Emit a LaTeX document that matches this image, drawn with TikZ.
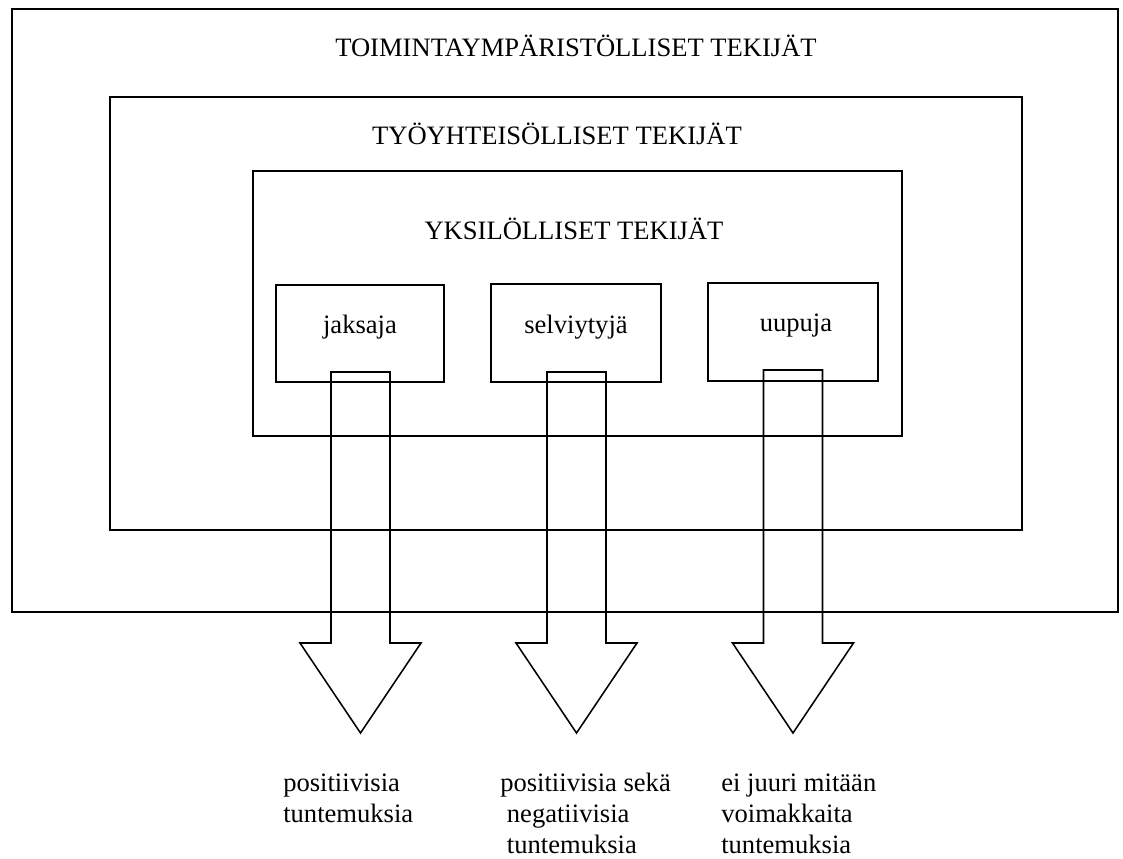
\documentclass[tikz,border=0pt]{standalone}
\usepackage{fontspec}
\setmainfont{Liberation Serif}

\tikzset{
  kehys/.style={line width=1.1pt},
  teksti/.style={font=\fontsize{18.9}{22}\selectfont, inner sep=0pt},
}

\begin{document}
\begin{tikzpicture}[x=0.025cm, y=-0.025cm, line join=miter]
  \useasboundingbox (0,0) rectangle (1123,859);
  % kehykset
  \draw[kehys] (12,9) rectangle (1118,612);
  \draw[kehys] (110,97) rectangle (1022,530);
  \draw[kehys] (253,171) rectangle (902,436);
  \node[teksti, anchor=base] (toiminta) at (576,57) {TOIMINTAYMPÄRISTÖLLISET TEKIJÄT};
  \node[teksti, anchor=base] (tyoyhteiso) at (557,145) {TYÖYHTEISÖLLISET TEKIJÄT};
  \node[teksti, anchor=base] (yksilo) at (574,240) {YKSILÖLLISET TEKIJÄT};
  % tyypit
  \draw[kehys] (276,285) rectangle (444,382);
  \draw[kehys] (491,284) rectangle (661,382);
  \draw[kehys] (708,283) rectangle (878,381);
  \node[teksti, anchor=base] (jaksaja) at (360,333) {jaksaja};
  \node[teksti, anchor=base] (selviytyja) at (576,333) {selviytyjä};
  \node[teksti, anchor=base] (uupuja) at (796,332) {uupuja};
  % nuolet (ontot)
  \foreach \x/\yt in {360.5/372, 576.5/372, 793/370}
    \draw[kehys] (\x-29.5,\yt) -- (\x+29.5,\yt) -- (\x+29.5,643) -- (\x+60.5,643)
      -- (\x,733) -- (\x-60.5,643) -- (\x-29.5,643) -- cycle;
  % tuntemukset (base = viimeinen rivi)
  \node[teksti, anchor=base west, align=left] (positiivisia) at (283,822)
    {positiivisia\\tuntemuksia};
  \node[teksti, anchor=base west, align=left] (molemmat) at (500,853)
    {positiivisia sekä\\\mbox{}\ negatiivisia\\\mbox{}\ tuntemuksia};
  \node[teksti, anchor=base west, align=left] (eimitaan) at (721,853)
    {ei juuri mitään\\voimakkaita\\tuntemuksia};
\end{tikzpicture}
\end{document}
